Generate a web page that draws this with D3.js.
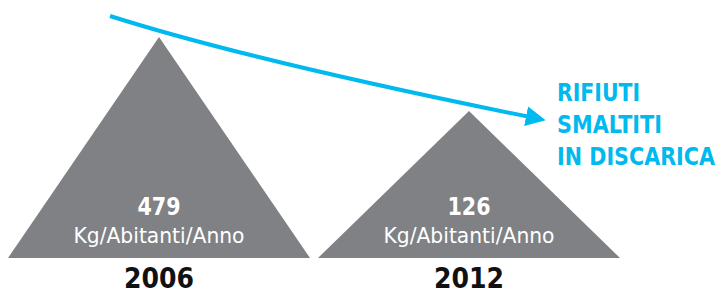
<!DOCTYPE html>
<html>
<head>
<meta charset="utf-8">
<script src="https://cdn.jsdelivr.net/npm/d3@7"></script>
<style>
  body { margin: 0; background: #fff; }
  text { font-family: "DejaVu Sans Condensed", "Liberation Sans Narrow", Roboto, sans-serif; }
</style>
</head>
<body>
<script>
// dati: rifiuti smaltiti in discarica, kg per abitante l'anno
var years = ["2006", "2012"];
var values = [479, 126];
var unit = "Kg/Abitanti/Anno";
var labelLines = ["RIFIUTI", "SMALTITI", "IN DISCARICA"];

var w = 721, h = 295;
var baseY = 258;
var gray = "#808184";
var cyan = "#00b9ee";

var svg = d3.select("body").append("svg")
    .attr("width", w)
    .attr("height", h);

var x = d3.scaleBand()
    .domain(years)
    .range([8, 620])
    .paddingInner(8 / 310);

// apex height of each triangle
var y = d3.scaleLinear()
    .domain([126, 479])
    .range([111, 37]);

var data = years.map((yr, i) => ({ year: yr, value: values[i] }));

var g = svg.selectAll(".peak")
    .data(data)
    .enter()
    .append("g")
    .attr("class", "peak");

g.append("path")
    .attr("fill", gray)
    .attr("d", (d) => {
        var x0 = x(d.year), x1 = x0 + x.bandwidth();
        var p = d3.path();
        p.moveTo(x0, baseY);
        p.lineTo((x0 + x1) / 2, y(d.value));
        p.lineTo(x1, baseY);
        p.closePath();
        return p.toString();
    });

g.append("text")
    .attr("x", (d) => x(d.year) + x.bandwidth() / 2)
    .attr("y", 215)
    .attr("text-anchor", "middle")
    .attr("fill", "#fff")
    .attr("font-weight", "bold")
    .attr("font-size", 25)
    .attr("textLength", 43)
    .attr("lengthAdjust", "spacingAndGlyphs")
    .text((d) => d.value);

g.append("text")
    .attr("x", (d) => x(d.year) + x.bandwidth() / 2)
    .attr("y", 243)
    .attr("text-anchor", "middle")
    .attr("fill", "#fff")
    .attr("font-size", 21)
    .attr("textLength", 171)
    .attr("lengthAdjust", "spacingAndGlyphs")
    .text(unit);

g.append("text")
    .attr("x", (d) => x(d.year) + x.bandwidth() / 2)
    .attr("y", 288)
    .attr("text-anchor", "middle")
    .attr("fill", "#111")
    .attr("font-weight", "bold")
    .attr("font-size", 28)
    .attr("textLength", 70)
    .attr("lengthAdjust", "spacingAndGlyphs")
    .text((d) => d.year);

// freccia di tendenza
var defs = svg.append("defs");
defs.append("marker")
    .attr("id", "arrow")
    .attr("viewBox", "0 0 10 10")
    .attr("refX", 2)
    .attr("refY", 5)
    .attr("markerWidth", 5)
    .attr("markerHeight", 5)
    .attr("markerUnits", "strokeWidth")
    .attr("orient", "auto")
    .append("path")
    .attr("d", "M0,0L10,5L0,10z")
    .attr("fill", cyan);

var arrow = d3.path();
arrow.moveTo(110, 16);
arrow.quadraticCurveTo(252, 61, 530, 117);
svg.append("path")
    .attr("d", arrow.toString())
    .attr("fill", "none")
    .attr("stroke", cyan)
    .attr("stroke-width", 4)
    .attr("marker-end", "url(#arrow)");

var lineW = [83, 105, 158];
svg.append("g").selectAll("text")
    .data(labelLines)
    .enter()
    .append("text")
    .attr("x", 557)
    .attr("y", (d, i) => 101 + i * 32)
    .attr("fill", cyan)
    .attr("font-weight", "bold")
    .attr("font-size", 24)
    .attr("textLength", (d, i) => lineW[i])
    .attr("lengthAdjust", "spacingAndGlyphs")
    .text((d) => d);
</script>
</body>
</html>
